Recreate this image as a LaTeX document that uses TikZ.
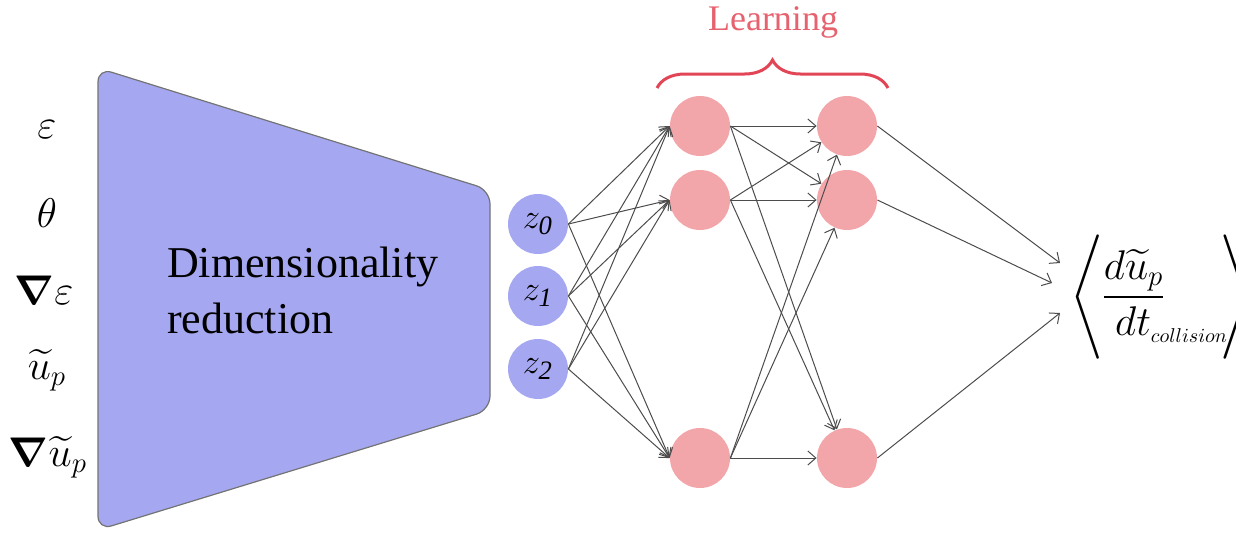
\documentclass[tikz,border=0pt]{standalone}
\usepackage{amsmath}
\usepackage{fontspec}
\setmainfont{Liberation Serif}
\usetikzlibrary{arrows.meta,decorations.pathreplacing}

\definecolor{reducblue}{RGB}{165,168,240}
\definecolor{learnpink}{RGB}{242,166,170}
\definecolor{learnred}{RGB}{226,70,86}

\tikzset{
  latent/.style={circle,fill=reducblue,minimum size=30pt,inner sep=0pt,font=\fontsize{19}{19}\selectfont},
  neuron/.style={circle,fill=learnpink,minimum size=30pt,inner sep=0pt},
  wire/.style={draw=black!70,line width=0.5pt,-{Straight Barb[length=4pt,width=7pt]}},
  inlabel/.style={font=\fontsize{20}{20}\selectfont,inner sep=1pt},
}

\begin{document}
\begin{tikzpicture}[x=0.5pt,y=-0.5pt]
\useasboundingbox (0,0) rectangle (1236,536);

% encoder
\draw[fill=reducblue,draw=black!55,line width=0.6pt,rounded corners=7pt]
  (98,68) -- (490,190) -- (490,410) -- (98,530) -- cycle;
\node[anchor=west,align=left,font=\fontsize{22}{28}\selectfont] (dimred) at (160,290) {Dimensionality\\reduction};

% inputs
\node[inlabel] (eps) at (47,130) {$\varepsilon$};
\node[inlabel] (theta) at (47,213) {$\theta$};
\node[inlabel] (geps) at (44,290) {$\boldsymbol{\nabla}\varepsilon$};
\node[inlabel] (up) at (47,370) {$\widetilde{u}_p$};
\node[inlabel] (gup) at (48,457) {$\boldsymbol{\nabla}\widetilde{u}_p$};

% latent space
\foreach \i/\y in {0/224,1/296,2/369}
  \node[latent] (z\i) at (538,\y) {$z_{\mathit{\i}}$};

% hidden layers
\foreach \n/\y in {a/126,b/200,c/458}{
  \node[neuron] (h1\n) at (700,\y) {};
  \node[neuron] (h2\n) at (847,\y) {};
}

\foreach \i in {0,1,2}
  \foreach \n in {a,b,c}
    \draw[wire] (z\i.east) -- (h1\n.west);
\foreach \m in {a,b,c}
  \foreach \n in {a,b,c}
    \draw[wire] (h1\m.east) -- (h2\n);

% output
\node[anchor=west,inner sep=0pt,font=\fontsize{20}{20}\selectfont] (out) at (1070,297)
  {$\Bigg\langle\mkern-1mu\dfrac{d\widetilde{u}_p}{dt_{\rlap{$\scriptscriptstyle collision$}}}\hspace{27pt}\Bigg\rangle$};
\coordinate (o1) at ([shift={(-10,-34)}]out.west);
\coordinate (o2) at ([shift={(-18,-14)}]out.west);
\coordinate (o3) at ([shift={(-10,16)}]out.west);
\draw[wire] (h2a.east) -- (o1);
\draw[wire] (h2b.east) -- (o2);
\draw[wire] (h2c.east) -- (o3);

% learning brace
\node[text=learnred!85,font=\fontsize{18}{18}\selectfont] (learn) at (773,22) {Learning};
\draw[learnred,line width=1.5pt,decorate,decoration={brace,amplitude=14pt}] (657,88) -- (888,88);

\end{tikzpicture}
\end{document}
